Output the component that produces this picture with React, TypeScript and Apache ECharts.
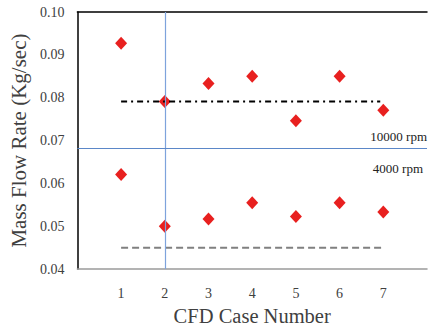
import React, { useEffect, useRef } from "react";
import * as echarts from "echarts";

const cases = [1, 2, 3, 4, 5, 6, 7];
const highRpm = [0.0927, 0.0791, 0.0833, 0.085, 0.0746, 0.085, 0.0771];
const lowRpm = [0.0621, 0.05, 0.0517, 0.0555, 0.0523, 0.0555, 0.0533];
const dashDotLine = [[1, 0.0791], [6.93, 0.0791]];
const dashedLine = [[1, 0.045], [7, 0.045]];
const dividerY = 0.0682;
const dividerX = 2;
const yTicks = [0.04, 0.05, 0.06, 0.07, 0.08, 0.09, 0.1];
const labelHigh = "10000 rpm";
const labelLow = "4000 rpm";

const FONT = "'Liberation Serif', 'Times New Roman', serif";

export default function App() {
  const ref = useRef<HTMLDivElement>(null);
  useEffect(() => {
    document.body.style.margin = "0";
    if (!ref.current) return;
    const chart = echarts.init(ref.current, null, { renderer: "svg" });
    const pts = (arr: number[]) => cases.map((c, i) => [c, arr[i]]);
    chart.setOption({
      animation: false,
      grid: { left: 73, top: 12, right: 0, bottom: 58 },
      xAxis: [
        {
          type: "value",
          min: 0,
          max: 8,
          interval: 1,
          position: "bottom",
          name: "CFD Case Number",
          nameLocation: "middle",
          nameGap: 35,
          nameTextStyle: { fontFamily: FONT, fontSize: 20.5, color: "#404040" },
          axisLine: { lineStyle: { color: "#9a9a9a", width: 1.5 } },
          axisTick: { show: false },
          splitLine: { show: false },
          axisLabel: {
            fontFamily: FONT,
            fontSize: 14,
            color: "#404040",
            margin: 17,
            formatter: (v: number) => (cases.includes(v) ? String(v) : ""),
          },
        },
        {
          type: "value",
          min: 0,
          max: 8,
          position: "top",
          axisLine: { show: true, lineStyle: { color: "#000", width: 1.5 } },
          axisTick: { show: false },
          axisLabel: { show: false },
          splitLine: { show: false },
        },
      ],
      yAxis: {
        type: "value",
        min: 0.04,
        max: 0.1,
        interval: 0.01,
        name: "Mass Flow Rate (Kg/sec)",
        nameLocation: "middle",
        nameGap: 47,
        nameTextStyle: { fontFamily: FONT, fontSize: 21, color: "#404040" },
        axisLine: { show: true, lineStyle: { color: "#000", width: 1.5 } },
        axisTick: { show: false },
        splitLine: { show: false },
        axisLabel: {
          fontFamily: FONT,
          fontSize: 14,
          color: "#404040",
          margin: 13,
          formatter: (v: number) => {
            const t = yTicks.find((y) => Math.abs(y - v) < 1e-9);
            return t !== undefined ? t.toFixed(2) : "";
          },
        },
      },
      series: [
        {
          type: "line",
          data: dashDotLine,
          symbol: "none",
          silent: true,
          lineStyle: { color: "#000", width: 2, type: [6, 4, 2, 4] },
          markLine: {
            silent: true,
            symbol: "none",
            precision: 6,
            label: { show: false },
            data: [
              { xAxis: dividerX, lineStyle: { color: "#7ea3dc", width: 1.2, type: "solid" } },
              { yAxis: dividerY, lineStyle: { color: "#5b87c8", width: 1.2, type: "solid" } },
            ],
          },
        },
        {
          type: "line",
          data: dashedLine,
          symbol: "none",
          silent: true,
          lineStyle: { color: "#808080", width: 2, type: [7, 4] },
        },
        {
          type: "scatter",
          data: pts(highRpm),
          symbol: "diamond",
          symbolSize: [12, 13],
          itemStyle: { color: "#e8201f", opacity: 1 },
        },
        {
          type: "scatter",
          data: pts(lowRpm),
          symbol: "diamond",
          symbolSize: [12, 13],
          itemStyle: { color: "#e8201f", opacity: 1 },
        },
      ],
      graphic: [
        {
          type: "text",
          right: 3,
          top: 130,
          style: { text: labelHigh, fontFamily: FONT, fontSize: 13, fill: "#222" },
        },
        {
          type: "text",
          right: 7,
          top: 162,
          style: { text: labelLow, fontFamily: FONT, fontSize: 13, fill: "#222" },
        },
      ],
    });
    return () => chart.dispose();
  }, []);
  return <div ref={ref} style={{ width: 430, height: 331 }} />;
}
